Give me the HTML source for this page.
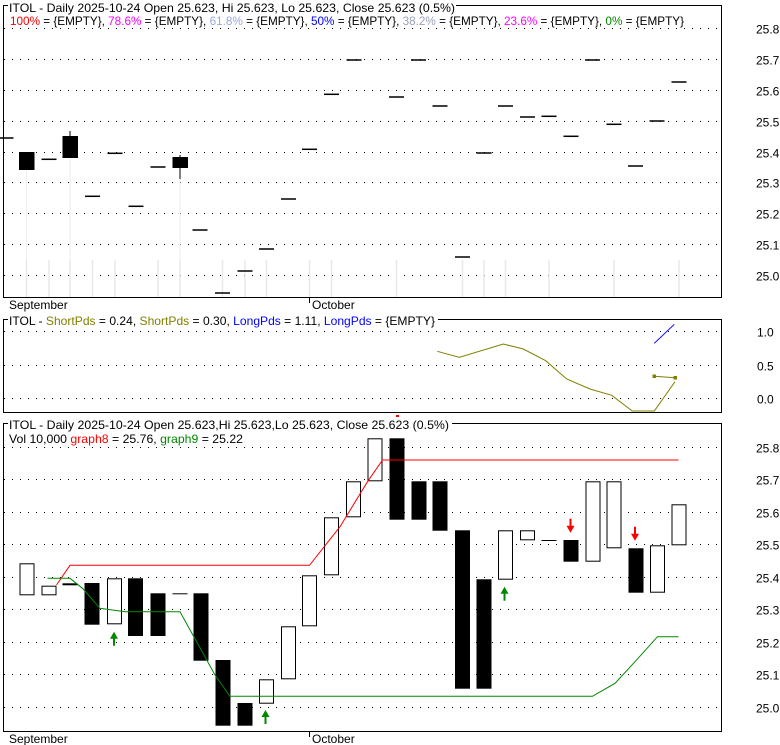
<!DOCTYPE html>
<html><head><meta charset="utf-8"><style>
html,body{margin:0;padding:0;background:#fff;}
svg{display:block;font-family:"Liberation Sans",sans-serif;font-size:12px;}
</style></head><body>
<svg id="s" width="780" height="745" viewBox="0 0 780 745" xmlns="http://www.w3.org/2000/svg">
<rect width="780" height="745" fill="#fff"/>
<g id="g"></g>
<rect x="3.5" y="5.5" width="718" height="292" fill="none" stroke="#000"/>
<rect x="3.5" y="319.5" width="718" height="93" fill="none" stroke="#000"/>
<rect x="3.5" y="423.5" width="718" height="308" fill="none" stroke="#000"/>
<rect x="8" y="0" width="448" height="13" fill="#fff"/>
<text x="9" y="12" textLength="446" lengthAdjust="spacingAndGlyphs">ITOL - Daily 2025-10-24 Open 25.623, Hi 25.623, Lo 25.623, Close 25.623 (0.5%)</text>
<text x="10" y="25" textLength="674" lengthAdjust="spacingAndGlyphs"><tspan fill="#f00">100%</tspan> = {EMPTY}, <tspan fill="#f0f">78.6%</tspan> = {EMPTY}, <tspan fill="#99aadd">61.8%</tspan> = {EMPTY}, <tspan fill="#00f">50%</tspan> = {EMPTY}, <tspan fill="#99a0bb">38.2%</tspan> = {EMPTY}, <tspan fill="#f0f">23.6%</tspan> = {EMPTY}, <tspan fill="#080">0%</tspan> = {EMPTY}</text>
<rect x="8" y="313" width="430" height="13" fill="#fff"/>
<text x="9" y="325" textLength="426" lengthAdjust="spacingAndGlyphs">ITOL - <tspan fill="#808000">ShortPds</tspan> = 0.24, <tspan fill="#808000">ShortPds</tspan> = 0.30, <tspan fill="#00f">LongPds</tspan> = 1.11, <tspan fill="#00f">LongPds</tspan> = {EMPTY}</text>
<rect x="8" y="417" width="444" height="13" fill="#fff"/>
<text x="9" y="429" textLength="440" lengthAdjust="spacingAndGlyphs">ITOL - Daily 2025-10-24 Open 25.623,Hi 25.623,Lo 25.623, Close 25.623 (0.5%)</text>
<rect x="396" y="415" width="3" height="2" fill="#f00"/>
<text x="9" y="443" textLength="234" lengthAdjust="spacingAndGlyphs">Vol 10,000 <tspan fill="#f00">graph8</tspan> = 25.76, <tspan fill="#080">graph9</tspan> = 25.22</text>
<text x="9" y="309">September</text>
<line x1="309.5" y1="297" x2="309.5" y2="303" stroke="#000"/>
<text x="312" y="309">October</text>
<text x="9" y="743">September</text>
<line x1="309.5" y1="731" x2="309.5" y2="737" stroke="#000"/>
<text x="312" y="743">October</text>
</svg>
<script>
var g=document.getElementById('g'),ns='http://www.w3.org/2000/svg',h='';
function yT(v){return 275-(v-25)*308.75;}
function yB(v){return 706.7-(v-25)*325;}
var DA='1,7';
for(var i=0;i<=8;i++){var v=25+i/10,y=Math.round(yT(v))+.5;
 h+='<line x1="4" y1="'+y+'" x2="722" y2="'+y+'" stroke="#000" stroke-dasharray="'+DA+'"/>';
 h+='<text x="756" y="'+(y+5)+'">'+v.toFixed(1)+'</text>';
 y=Math.round(yB(v))+.5;
 h+='<line x1="4" y1="'+y+'" x2="722" y2="'+y+'" stroke="#000" stroke-dasharray="'+DA+'"/>';
 h+='<text x="756" y="'+(y+5)+'">'+v.toFixed(1)+'</text>';}
[[331,'1.0'],[364.7,'0.5'],[398,'0.0']].forEach(function(a){var y=Math.round(a[0])+.5;
 h+='<line x1="4" y1="'+y+'" x2="722" y2="'+y+'" stroke="#000" stroke-dasharray="'+DA+'"/>';
 h+='<text x="757" y="'+(y+5)+'">'+a[1]+'</text>';});
[26.5,49,70,92.5,115,158,180,222.5,245,266.5,309.5,331.5,396.5,462.5,484,505.5,549,614,679].forEach(function(x){
 h+='<line x1="'+x+'" y1="260" x2="'+x+'" y2="297" stroke="#e8e8e8" stroke-width="1.5"/>';});
h+='<line x1="26.5" y1="170" x2="26.5" y2="260" stroke="#eee"/><line x1="70" y1="158" x2="70" y2="260" stroke="#eee"/><line x1="180" y1="168" x2="180" y2="260" stroke="#eee"/>';
h+='<line x1="70" y1="131" x2="70" y2="136" stroke="#000"/><line x1="180" y1="155" x2="180" y2="179" stroke="#000"/>';
var td=[[6,138],[49,159.3],[92.5,196.3],[115,153.3],[136,206.3],[158,167],[200,230],[222.5,293],[245,271],[266.5,249],[288.5,199],[309.5,149.3],[331.5,94.3],[354,60],[396.5,97],[418.5,60],[440,106],[462.5,257],[484,153],[505.5,106],[527.5,117],[549,116.3],[571,136.3],[592.5,60],[614,124.3],[635.5,166],[657,121],[679,82]];
td.forEach(function(d){h+='<rect x="'+(d[0]-7.5)+'" y="'+(d[1]-0.75)+'" width="15" height="1.5" fill="#000"/>';});
h+='<rect x="19" y="152" width="15.5" height="18" fill="#000"/><rect x="62.5" y="136" width="15.5" height="22" fill="#000"/><rect x="172.5" y="157" width="15.5" height="11" fill="#000"/>';
h+='<polyline points="437.3,351.3 459.3,357.3 503.3,344 523.3,349 545.7,360.7 566.7,379 590,389 611.7,395.3 632.3,411 654.3,411 675,381.7" fill="none" stroke="#808000"/>';
h+='<polyline points="654.3,376.3 675,377.7" fill="none" stroke="#808000"/><rect x="652.5" y="374.5" width="3.5" height="3.5" fill="#808000"/><rect x="673.5" y="376" width="3.5" height="3.5" fill="#808000"/>';
h+='<line x1="654.3" y1="343.3" x2="674.3" y2="324.3" stroke="#00f"/>';
var c=[[27,563.3,595.3,0],[49,585.7,595.3,0],[70,583.3,585.3,0],[92,583,624.7,1],[114.5,578.3,624.3,0],[135.5,578.3,636,1],[158,593.3,636,1],[180,593.3,593.3,2],[201,593.3,660.7,1],[223,660,725.7,1],[245,703,725.7,1],[266.5,679.3,703.7,0],[288.5,626.3,679.3,0],[309.5,575.3,626.3,0],[331.5,517.3,575.3,0],[353.5,481.3,517.3,0],[375,438.3,481.3,0],[397,438.3,519.7,1],[419,481.3,519.7,1],[440,481.3,530.7,1],[462.5,530.3,688.7,1],[484,579.3,688.7,1],[505.5,530.3,579.7,0],[527.5,530.3,540.3,0],[549,540,540,2],[571,540,561.7,1],[593,481.3,561.7,0],[614,481.3,548.3,0],[636,548.3,592.7,1],[657.5,545.3,592.7,0],[679,504.3,545.3,0]];
c.forEach(function(d){var x=d[0]-7.5,w=15;
 if(d[3]==2){h+='<line x1="'+x+'" y1="'+(d[1]+.5)+'" x2="'+(x+w)+'" y2="'+(d[1]+.5)+'" stroke="#000"/>';}
 else if(d[3]==1){h+='<rect x="'+x+'" y="'+d[1]+'" width="'+w+'" height="'+(d[2]-d[1])+'" fill="#000"/>';}
 else{h+='<rect x="'+(x+.5)+'" y="'+(d[1]+.5)+'" width="'+(w-1)+'" height="'+Math.max(1,d[2]-d[1]-1)+'" fill="#fff" stroke="#000"/>';}});
h+='<polyline points="56.5,585 70,565.3 309.5,565.3 340,526.7 367.5,481.7 382.5,460 678.5,460" fill="none" stroke="#f00"/>';
h+='<polyline points="47.5,578.3 70,578.3 82.5,588.3 100,608.3 125,611.7 180,611.7 215,675 230,696.3 592.5,696.3 615,683.3 635,661.7 657.5,636.7 678.5,636.7" fill="none" stroke="#080"/>';
function up(x,t){return '<polygon points="'+x+','+t+' '+(x-4)+','+(t+7)+' '+(x+4)+','+(t+7)+'" fill="#080"/><rect x="'+(x-1)+'" y="'+(t+6)+'" width="2" height="8" fill="#080"/>';}
function dn(x,t){return '<polygon points="'+x+','+t+' '+(x-4)+','+(t-7)+' '+(x+4)+','+(t-7)+'" fill="#f00"/><rect x="'+(x-1)+'" y="'+(t-14)+'" width="2" height="8" fill="#f00"/>';}
h+=up(114,631.7)+up(265.5,710)+up(504.5,586.7)+dn(570.5,532.7)+dn(635,540.7);
g.innerHTML=h;
</script>
</body></html>
